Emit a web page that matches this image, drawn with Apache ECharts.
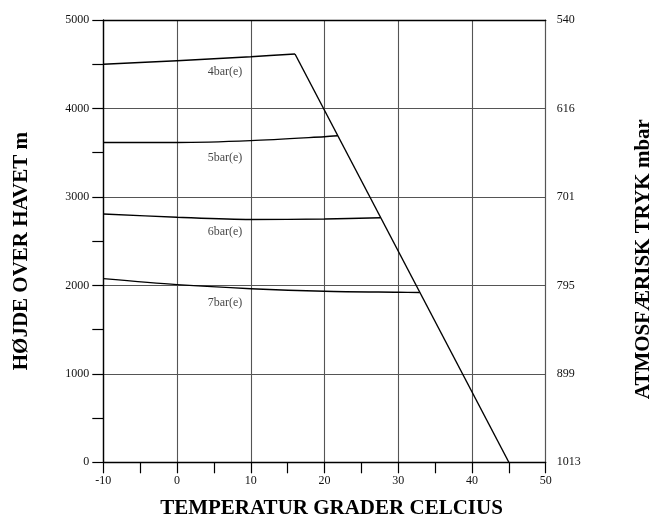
<!DOCTYPE html>
<html>
<head>
<meta charset="utf-8">
<script src="https://cdn.jsdelivr.net/npm/echarts@6/dist/echarts.min.js"></script>
<style>
  html, body { margin: 0; padding: 0; background: #fff; }
  #chart { width: 659px; height: 523px; }
</style>
</head>
<body>
<div id="chart"></div>
<script>
// Operating curves: altitude (m) vs. ambient temperature (°C) per pressure rating
const temp4 = [-10, 0, 10, 16];
const alt4  = [4500, 4540, 4585, 4616];

const temp5 = [-10, 0, 10, 20, 21.8];
const alt5  = [3615, 3615, 3636, 3681, 3692];

const temp6 = [-10, 0, 10, 20, 27.6];
const alt6  = [2807, 2770, 2745, 2750, 2765];

const temp7 = [-10, 0, 10, 20, 30, 32.9];
const alt7  = [2076, 2008, 1962, 1933, 1922, 1920];

// Temperature limit line
const tempLimit = [16, 45];
const altLimit  = [4616, 0];

// Curve names and where their captions sit (temperature, altitude)
const curveNames = ['4bar(e)', '5bar(e)', '6bar(e)', '7bar(e)'];
const captionTemp = [6.5, 6.5, 6.5, 6.5];
const captionAlt  = [4412, 3443, 2603, 1801];

// Atmospheric pressure (mbar) at altitude 0, 1000, ... 5000 m
const pressureLabels = ['1013', '899', '795', '701', '616', '540'];

const pairs = (xs, ys) => xs.map((x, i) => [x, ys[i]]);

const serif = '"Liberation Serif", "DejaVu Serif", serif';
const lineStyle = { color: '#000', width: 1.4 };
const titleFont = { fontFamily: serif, fontWeight: 'bold', fontSize: 21, color: '#000' };

function curve(xs, ys) {
  return {
    type: 'line',
    data: pairs(xs, ys),
    smooth: 0.3,
    showSymbol: false,
    lineStyle: lineStyle,
    silent: true,
    z: 5
  };
}

const chart = echarts.init(document.getElementById('chart'), null, { renderer: 'canvas' });

chart.setOption({
  animation: false,
  backgroundColor: '#fff',
  grid: {
    left: 103.3, right: 113.3, top: 20, bottom: 60.7,
    containLabel: false,
    outerBoundsMode: 'none'
  },
  xAxis: [
    {
      type: 'value',
      min: -10, max: 50, interval: 10,
      name: 'TEMPERATUR GRADER CELCIUS',
      nameLocation: 'middle',
      nameGap: 36,
      nameTextStyle: Object.assign({ padding: [0, 0, 0, 14] }, titleFont),
      axisLine: { show: true, onZero: false, lineStyle: { color: '#000', width: 1.4 } },
      axisTick: { show: true, length: 11, lineStyle: { color: '#000', width: 1.2 } },
      minorTick: { show: true, splitNumber: 2, length: 11, lineStyle: { color: '#000', width: 1.2 } },
      axisLabel: { fontFamily: serif, fontSize: 12, color: '#111', margin: 13 },
      splitLine: { show: true, lineStyle: { color: '#555', width: 1.1 } }
    },
    {
      // top frame edge
      type: 'value',
      position: 'top',
      min: -10, max: 50, interval: 10,
      axisLine: { show: true, onZero: false, lineStyle: { color: '#000', width: 1.4 } },
      axisTick: { show: false },
      axisLabel: { show: false },
      splitLine: { show: false }
    }
  ],
  yAxis: [
    {
      type: 'value',
      min: 0, max: 5000, interval: 1000,
      name: 'HØJDE OVER HAVET m',
      nameLocation: 'middle',
      nameRotate: 90,
      nameGap: 71,
      nameTextStyle: Object.assign({ padding: [0, 20, 0, 0] }, titleFont),
      axisLine: { show: true, onZero: false, lineStyle: { color: '#000', width: 1.4 } },
      axisTick: { show: true, length: 11, lineStyle: { color: '#000', width: 1.2 } },
      minorTick: { show: true, splitNumber: 2, length: 11, lineStyle: { color: '#000', width: 1.2 } },
      axisLabel: { fontFamily: serif, fontSize: 12, color: '#111', margin: 14, formatter: v => String(v) },
      splitLine: { show: true, lineStyle: { color: '#555', width: 1.1 } }
    },
    {
      type: 'value',
      position: 'right',
      min: 0, max: 5000, interval: 1000,
      name: 'ATMOSFÆRISK TRYK mbar',
      nameLocation: 'middle',
      nameRotate: 90,
      nameGap: 87,
      nameTextStyle: Object.assign({ padding: [0, 36, 0, 0] }, titleFont),
      axisLine: { show: true, onZero: false, lineStyle: { color: '#555', width: 1.1 } },
      axisTick: { show: false },
      axisLabel: {
        fontFamily: serif, fontSize: 12, color: '#111', margin: 11,
        formatter: v => pressureLabels[Math.round(v / 1000)]
      },
      splitLine: { show: false }
    }
  ],
  series: [
    curve(temp4, alt4),
    curve(temp5, alt5),
    curve(temp6, alt6),
    curve(temp7, alt7),
    {
      type: 'line',
      data: pairs(tempLimit, altLimit),
      showSymbol: false,
      lineStyle: lineStyle,
      silent: true,
      z: 5
    },
    {
      type: 'scatter',
      data: curveNames.map((n, i) => ({ name: n, value: [captionTemp[i], captionAlt[i]] })),
      symbolSize: 0,
      silent: true,
      label: {
        show: true,
        position: 'inside',
        formatter: p => p.name,
        fontFamily: serif,
        fontSize: 12,
        color: '#111'
      },
      z: 6
    }
  ]
});
</script>
</body>
</html>
